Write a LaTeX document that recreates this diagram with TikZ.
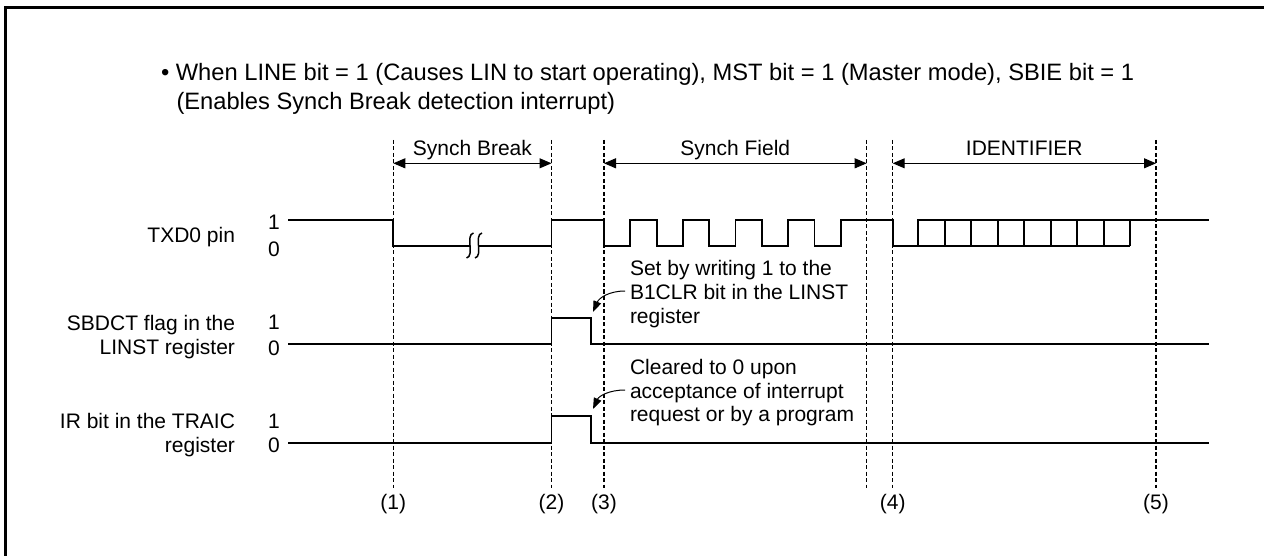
\documentclass[tikz,border=0pt]{standalone}
\usepackage{fontspec}
\setmainfont{Liberation Sans}
\usetikzlibrary{arrows.meta}
\begin{document}
\begin{tikzpicture}[x=1pt,y=-1pt,
  wave/.style={line width=1.8pt, line join=miter},
  guide/.style={line width=1.2pt, dash pattern=on 4pt off 2.5pt},
  span/.style={line width=1pt, {Triangle[length=12pt,width=10pt]}-{Triangle[length=12pt,width=10pt]}},
  txt/.style={font=\fontsize{21}{24}\selectfont, inner sep=0pt, outer sep=0pt},
  headtxt/.style={font=\fontsize{23.7}{28}\selectfont, inner sep=0pt, outer sep=0pt},
  callout/.style={line width=1pt, -{Triangle[length=11pt,width=8pt]}},
  breakmark/.style={line width=1.5pt},
  frame/.style={line width=3pt},
]
\useasboundingbox (0,0) rectangle (1264,556);
% frame
\coordinate (fbl) at (5.5,556);
\coordinate (ftl) at (5.5,7.5);
\coordinate (ftr) at (1264,7.5);
\draw[frame] (fbl) -- (ftl) -- (ftr);

% heading
\node[headtxt, anchor=base west] (intro1) at (161,80.8) {\textbullet\ When LINE bit = 1 (Causes LIN to start operating), MST bit = 1 (Master mode), SBIE bit = 1};
\node[headtxt, anchor=base west] (intro2) at (176.5,109.5) {(Enables Synch Break detection interrupt)};

% guide lines
\foreach \n/\x in {1/393.3, 2/551.5, 3/604, 4/866.7, 6/892.7, 5/1156} {
  \coordinate (g\n t) at (\x,140);
  \coordinate (g\n b) at (\x,488);
  \coordinate (a\n) at (\x,163.3);
  \draw[guide] (g\n t) -- (g\n b);
}
\node[txt, anchor=base] (l1) at (393.3,509) {(1)};
\node[txt, anchor=base] (l2) at (551.5,509) {(2)};
\node[txt, anchor=base] (l3) at (604,509) {(3)};
\node[txt, anchor=base] (l4) at (892.7,509) {(4)};
\node[txt, anchor=base] (l5) at (1156,509) {(5)};

% span arrows
\draw[span] (a1) -- (a2);
\draw[span] (a3) -- (a4);
\draw[span] (a6) -- (a5);
\node[txt, anchor=base] (sbrk) at (472.4,155.5) {Synch Break};
\node[txt, anchor=base] (sfld) at (735.3,155.5) {Synch Field};
\node[txt, anchor=base] (sid) at (1024.3,155.5) {IDENTIFIER};

% left labels
\node[txt, anchor=base east] (ntxd) at (235,243) {TXD0 pin};
\node[txt, anchor=base east] (nsb1) at (235,330) {SBDCT flag in the};
\node[txt, anchor=base east] (nsb2) at (235,354.5) {LINST register};
\node[txt, anchor=base east] (nir1) at (235,428) {IR bit in the TRAIC};
\node[txt, anchor=base east] (nir2) at (235,452.5) {register};
\node[txt, anchor=base] (d1a) at (274,229.5) {1};
\node[txt, anchor=base] (d0a) at (274,256.5) {0};
\node[txt, anchor=base] (d1b) at (274,329.5) {1};
\node[txt, anchor=base] (d0b) at (274,355) {0};
\node[txt, anchor=base] (d1c) at (274,428) {1};
\node[txt, anchor=base] (d0c) at (274,452.5) {0};

% TXD0 waveform
\draw[wave] (288,220) -- (393.3,220) -- (393.3,245.7) -- (470,245.7);
\draw[wave] (478.5,245.7) -- (551.5,245.7) -- (551.5,220) -- (604,220) -- (604,245.7)
  -- (630.3,245.7) -- (630.3,220) -- (656.6,220) -- (656.6,245.7)
  -- (682.9,245.7) -- (682.9,220) -- (709.2,220) -- (709.2,245.7)
  -- (735.5,245.7) -- (735.5,220) -- (761.8,220) -- (761.8,245.7)
  -- (788.1,245.7) -- (788.1,220) -- (814.4,220) -- (814.4,245.7)
  -- (840.7,245.7) -- (840.7,220) -- (892.7,220) -- (892.7,245.7) -- (1130.3,245.7);
\draw[wave] (918.3,245.7) -- (918.3,220) -- (1209,220);
\foreach \k in {1,...,8} \draw[wave] ({918.3+26.5*\k},220) -- ++(0,25.7);
% break mark
\foreach \bx in {470,478.5}
  \draw[breakmark] (\bx+3.5,233) .. controls (\bx-5,235) and (\bx+5,256) .. (\bx-3.5,258);

% SBDCT flag
\draw[wave] (288,344.3) -- (551.5,344.3) -- (551.5,318) -- (590.7,318) -- (590.7,344.3) -- (1209,344.3);
% IR bit
\draw[wave] (288,442.7) -- (551.5,442.7) -- (551.5,416) -- (590.7,416) -- (590.7,442.7) -- (1209,442.7);

% notes
\node[txt, anchor=base west] (n1a) at (630,276) {Set by writing 1 to the};
\node[txt, anchor=base west] (n1b) at (630,299.5) {B1CLR bit in the LINST};
\node[txt, anchor=base west] (n1c) at (630,323) {register};
\node[txt, anchor=base west] (n2a) at (630,374.5) {Cleared to 0 upon};
\node[txt, anchor=base west] (n2b) at (630,398) {acceptance of interrupt};
\node[txt, anchor=base west] (n2c) at (630,421.5) {request or by a program};
\coordinate (c1s) at (625,291);
\coordinate (c1e) at (593,312);
\coordinate (c2s) at (625,390);
\coordinate (c2e) at (593,409);
\draw[callout] (c1s) .. controls (609,291) and (599,298) .. (c1e);
\draw[callout] (c2s) .. controls (609,390) and (599,396) .. (c2e);
\end{tikzpicture}
\end{document}
